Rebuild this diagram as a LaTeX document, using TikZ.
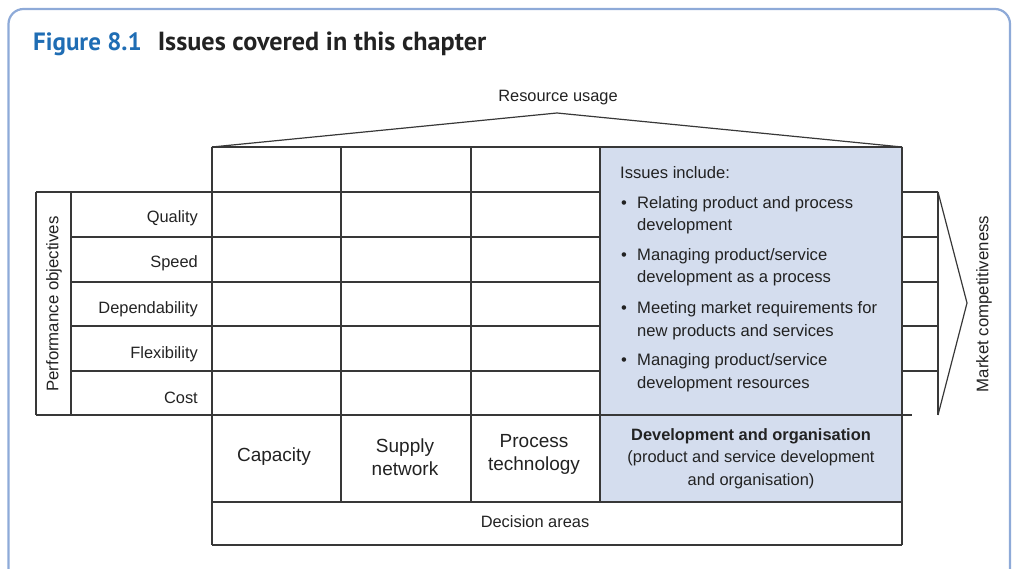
\documentclass[tikz,border=0pt]{standalone}
\usepackage{fontspec}
\setmainfont{Liberation Sans}
\newfontfamily\titlefont{PT Sans}
\definecolor{frameblue}{HTML}{8EAAD8}
\definecolor{titleblue}{HTML}{1F6DB4}
\definecolor{cellblue}{HTML}{D4DDEE}
\definecolor{linegray}{HTML}{383838}
\definecolor{textgray}{HTML}{222222}
\tikzset{
  gridline/.style={draw=linegray, line width=1.2pt},
  lbl/.style={inner sep=0pt, text=textgray, font=\fontsize{16.4}{19}\selectfont},
  rotlbl/.style={inner sep=0pt, text=textgray, rotate=90, font=\fontsize{16.8}{19}\selectfont},
  biglbl/.style={inner sep=0pt, text=textgray, align=center, font=\fontsize{19}{23}\selectfont},
  itemtxt/.style={inner sep=0pt, anchor=base west, text=textgray, font=\fontsize{16.6}{19}\selectfont},
}
\begin{document}
\begin{tikzpicture}[x=1pt,y=-1pt]
\useasboundingbox (0,0) rectangle (1014,569);
% frame
\draw[frameblue, line width=2.2pt, rounded corners=15pt] (8.5,590) -- (8.5,9) -- (1010,9) -- (1010,590);
% title
\node[anchor=base west, inner sep=0pt, font=\titlefont\bfseries] (title) at (33,51)
  {\textcolor{titleblue}{\fontsize{25}{30}\selectfont Figure 8.1}\hspace{16pt}\textcolor{textgray}{\fontsize{26.2}{30}\selectfont Issues covered in this chapter}};
% blue area
\fill[cellblue] (600,147) rectangle (902,502);
% coordinates
\coordinate (roofL) at (212,147);
\coordinate (roofT) at (557,113);
\coordinate (roofR) at (902,147);
\coordinate (arrT) at (938,192);
\coordinate (arrP) at (967,303);
\coordinate (arrB) at (938,415);
% roof
\draw[gridline] (roofL) -- (roofT) -- (roofR);
\node[lbl] (resource) at (558,97.5) {Resource usage};
% main grid
\draw[gridline] (212,147) -- (902,147);
\draw[gridline] (36,192) -- (212,192);
\draw[gridline] (212,192) -- (600,192);
\draw[gridline] (902,192) -- (938,192);
\foreach \yy in {237,282,326,371} {
  \draw[gridline] (71,\yy) -- (600,\yy);
  \draw[gridline] (902,\yy) -- (938,\yy);
}
\draw[gridline] (36,415) -- (912,415);
\draw[gridline] (212,502) -- (902,502);
\draw[gridline] (212,545) -- (902,545);
% verticals
\draw[gridline] (36,192) -- (36,415);
\draw[gridline] (71,192) -- (71,415);
\draw[gridline] (212,147) -- (212,545);
\draw[gridline] (341,147) -- (341,502);
\draw[gridline] (471,147) -- (471,502);
\draw[gridline] (600,147) -- (600,502);
\draw[gridline] (902,147) -- (902,545);
\draw[gridline] (938,192) -- (938,415);
% arrow
\draw[gridline] (arrT) -- (arrP) -- (arrB);
% performance labels
\node[rotlbl] (perf) at (54,304) {Performance objectives};
\node[lbl, anchor=base east] (quality) at (198,223) {Quality};
\node[lbl, anchor=base east] (speed) at (198,268) {Speed};
\node[lbl, anchor=base east] (dep) at (198,313) {Dependability};
\node[lbl, anchor=base east] (flex) at (198,358) {Flexibility};
\node[lbl, anchor=base east] (cost) at (198,403) {Cost};
\node[rotlbl] (market) at (984,304) {Market competitiveness};
% issues
\node[itemtxt] (issues) at (620,179) {Issues include:};
\node[itemtxt] (b1) at (621,209) {\textbullet};
\node[itemtxt] (i1a) at (637,209) {Relating product and process};
\node[itemtxt] (i1b) at (637,231) {development};
\node[itemtxt] (b2) at (621,261) {\textbullet};
\node[itemtxt] (i2a) at (637,261) {Managing product/service};
\node[itemtxt] (i2b) at (637,283) {development as a process};
\node[itemtxt] (b3) at (621,313) {\textbullet};
\node[itemtxt] (i3a) at (637,313) {Meeting market requirements for};
\node[itemtxt] (i3b) at (637,336) {new products and services};
\node[itemtxt] (b4) at (621,365) {\textbullet};
\node[itemtxt] (i4a) at (637,365) {Managing product/service};
\node[itemtxt] (i4b) at (637,388) {development resources};
% decision areas
\node[biglbl] (capacity) at (274,457) {Capacity};
\node[biglbl] (supply) at (405,457) {Supply\\network};
\node[biglbl] (process) at (534,454) {Process\\technology};
\node[lbl, align=center, font=\fontsize{16.4}{22.5}\selectfont] (devorg) at (751,458.5)
  {\textbf{Development and organisation}\\(product and service development\\and organisation)};
\node[lbl] (decision) at (535,522) {Decision areas};
\end{tikzpicture}
\end{document}
